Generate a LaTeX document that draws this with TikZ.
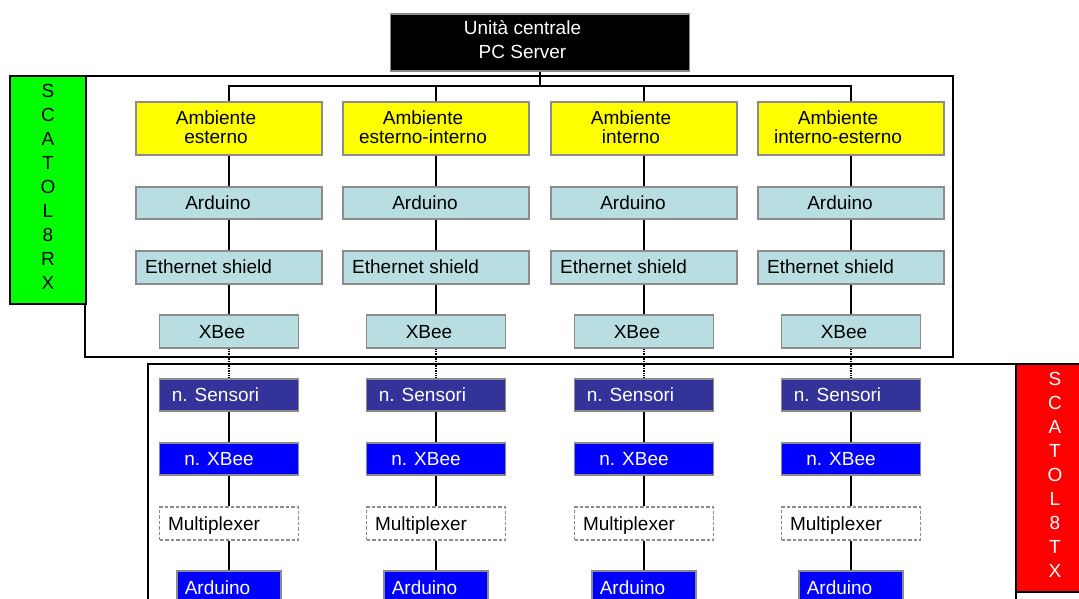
\documentclass[tikz,border=0pt]{standalone}
\usepackage{fontspec}
\setmainfont{Liberation Sans}
\usetikzlibrary{calc}
\definecolor{lblue}{RGB}{184,222,226}
\definecolor{dblue}{RGB}{51,51,153}
\definecolor{bblue}{RGB}{0,0,255}
\definecolor{ygold}{RGB}{255,255,0}
\definecolor{bgray}{RGB}{140,140,140}
\definecolor{sgreen}{RGB}{0,255,0}
\definecolor{sred}{RGB}{255,0,0}
\tikzset{
  x=1pt, y=-1pt,
  box/.style={draw=bgray, line width=1.3pt, rectangle, inner sep=0pt, minimum height=33pt},
  wide/.style={box, minimum width=186pt},
  narrow/.style={box, minimum width=139pt},
  txt/.style={inner sep=0pt, anchor=base, font=\fontsize{19}{19.5}\selectfont, align=center},
  ltxt/.style={inner sep=0pt, anchor=base west, font=\fontsize{19}{19.5}\selectfont},
  conn/.style={line width=1.2pt, black},
  dotconn/.style={line width=1.3pt, black, dash pattern=on 1.3pt off 1.1pt},
  frame/.style={line width=1.2pt, black},
  vert/.style={inner sep=0pt, anchor=base, align=center, font=\fontsize{19}{24}\selectfont},
}
\begin{document}
\begin{tikzpicture}
\useasboundingbox (0,0) rectangle (1079,599);
\clip (0,0) rectangle (1079,599);
\fill[white] (0,0) rectangle (1079,599);

% frames
\draw[frame] (85,76) rectangle (953,357);
\draw[frame] (148,364) rectangle (1016,640);
\node[frame, draw, fill=sgreen, minimum width=76pt, minimum height=228pt, inner sep=0pt] (rx) at (48,190) {};
\node[frame, draw, fill=sred, minimum width=78pt, minimum height=228pt, inner sep=0pt] (tx) at (1055,478) {};
\node[vert, text=black] (rxt) at (48,289) {S\\C\\A\\T\\O\\L\\8\\R\\X};
\node[vert, text=white] (txt) at (1055,577) {S\\C\\A\\T\\O\\L\\8\\T\\X};

% top node
\node[box, fill=black, minimum width=299pt, minimum height=57pt] (top) at (540,42.5) {};
\node[txt, text=white, font=\fontsize{19}{24}\selectfont] (topt) at (522.5,59) {Unità centrale\\PC Server};
\coordinate (bus) at (540,86);

% columns
\foreach \i/\cx/\la/\lb in {1/229/Ambiente/esterno, 2/436/Ambiente/esterno-interno, 3/644/Ambiente/interno, 4/851/Ambiente/interno-esterno}{
  \node[wide, fill=ygold, minimum height=53pt] (y\i) at (\cx,128.5) {};
  \node[txt] (yt\i) at (\cx-13,144) {\la\\\lb};
  \node[wide, fill=lblue, minimum height=32pt] (a\i) at (\cx,203) {};
  \node[txt] (at\i) at (\cx-11,209.5) {Arduino};
  \node[wide, fill=lblue] (e\i) at (\cx,267.5) {};
  \node[ltxt] (et\i) at (\cx-84,273.5) {Ethernet shield};
  \node[narrow, fill=lblue] (x\i) at (\cx,331.5) {};
  \node[txt] (xt\i) at (\cx-7,338) {XBee};
  \node[narrow, fill=dblue, minimum height=32pt] (s\i) at (\cx,395) {};
  \node[txt, text=white] (st\i) at (\cx-13.5,401.5) {n. Sensori};
  \node[narrow, fill=bblue, minimum height=32pt] (n\i) at (\cx,459) {};
  \node[txt, text=white] (nt\i) at (\cx-10,465.5) {n. XBee};
  \node[narrow, draw=bgray, fill=white, dash pattern=on 3.5pt off 2pt, line width=1.1pt] (m\i) at (\cx,523.5) {};
  \node[txt] (mt\i) at (\cx-15,530) {Multiplexer};
  \node[box, fill=bblue, minimum width=104pt] (d\i) at (\cx,587.5) {};
  \node[txt, text=white] (dt\i) at (\cx-11.5,594) {Arduino};
  \draw[conn] (bus) -| (y\i.north);
  \draw[conn] (y\i.south) -- (a\i.north);
  \draw[conn] (a\i.south) -- (e\i.north);
  \draw[conn] (e\i.south) -- (x\i.north);
  \draw[dotconn] (x\i.south) -- (s\i.north);
  \draw[conn] (s\i.south) -- (n\i.north);
  \draw[conn] (n\i.south) -- (m\i.north);
  \draw[conn] (m\i.south) -- (d\i.north);
}
\draw[conn] (top.south) -- (bus);
\end{tikzpicture}
\end{document}
